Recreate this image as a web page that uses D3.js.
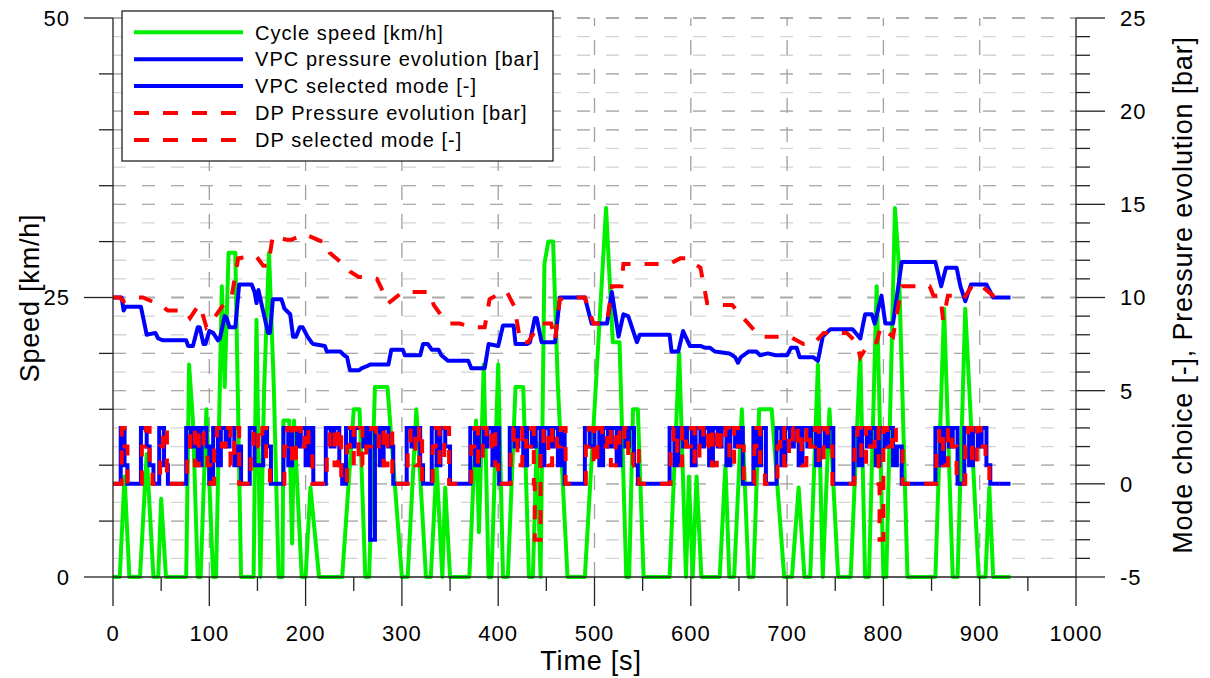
<!DOCTYPE html>
<html lang="en">
<head>
<meta charset="UTF-8">
<title>Cycle speed, pressure and mode choice</title>
<script src="https://cdn.jsdelivr.net/npm/d3@7"></script>
<style>
  body { margin: 0; background: #fff; }
  text { font-family: Arial, "Liberation Sans", sans-serif; fill: #000; }
</style>
</head>
<body>
<svg id="chart" width="1210" height="678"></svg>
<script>
// ---- data: [time s, value] ----
const cycleSpeed = [
  [0,0],[7,0],[12,9],[17,0],[28,0],[35,11],[42,0],[47,0],[50,7],[55,0],[76,0],[79,19],[83,14],[88,0],
  [91,0],[97,15],[104,0],[107,0],[113,26],[116,17],[120,29],[127,29],[133,0],[146,0],[149,23],[153,0],
  [157,17],[162,29],[167,17],[172,0],[176,0],[177,14],[183,14],[186,3],[188,14],[196,0],[200,0],[205,8],
  [214,0],[238,0],[250,15],[256,15],[262,0],[266,0],[272,17],[285,17],[300,0],[306,0],[315,15],[325,0],
  [330,0],[336,10],[342,0],[345,8],[350,0],[370,0],[377,14],[380,4],[385,19],[390,0],[393,0],[400,19],
  [405,0],[410,0],[418,17],[426,17],[432,0],[436,0],[440,12],[444,0],[448,28],[452,30],[457,30],[462,17],
  [472,0],[490,0],[512,33],[519,21],[526,21],[533,0],[536,0],[540,15],[545,15],[551,0],[578,0],[588,20],
  [595,0],[598,9],[602,0],[606,9],[611,0],[630,0],[636,10],[640,0],[645,0],[653,15],[660,0],[665,0],
  [671,15],[684,15],[697,0],[705,0],[712,8],[718,0],[724,0],[732,19],[737,0],[744,15],[753,0],[766,0],
  [776,20],[781,0],[785,0],[793,26],[800,0],[803,0],[812,33],[816,28],[825,0],[854,0],[863,24],[872,0],
  [877,0],[885,24],[899,0],[906,0],[910,8],[914,0],[932,0]
];

const vpcPressure = [
  [0,10],[9,10],[11,9.3],[13,9.5],[29,9.5],[31,9.0],[35,8.0],[44,8.1],[47,7.8],[52,7.7],[76,7.7],[78,7.4],
  [83,7.4],[88,8.4],[90,8.4],[94,7.5],[96,7.5],[100,8.2],[104,8.1],[109,7.7],[111,7.8],[116,9.0],[118,8.9],
  [121,8.4],[127,8.4],[131,10.7],[144,10.7],[147,10.3],[149,9.7],[151,10.4],[154,9.7],[161,8.1],[163,8.1],
  [166,9.9],[175,9.9],[178,9.4],[180,9.3],[184,9.1],[187,7.9],[190,7.9],[194,8.4],[197,8.4],[202,7.9],
  [206,7.6],[208,7.5],[220,7.4],[222,7.1],[236,7.1],[240,6.9],[243,6.8],[246,6.1],[256,6.1],[258,6.2],
  [263,6.3],[267,6.4],[286,6.4],[289,7.2],[301,7.2],[303,6.9],[319,6.9],[322,7.5],[327,7.5],[331,7.2],
  [338,7.2],[341,6.9],[348,6.6],[369,6.6],[372,6.2],[386,6.2],[390,7.5],[400,7.4],[405,8.5],[416,8.5],
  [418,7.5],[430,7.5],[433,7.6],[438,8.9],[440,8.9],[445,7.6],[459,7.6],[464,10],[490,10],[497,8.6],
  [513,8.6],[518,10.3],[525,7.9],[530,9.1],[535,9.0],[544,7.6],[547,8.0],[578,8.0],[580,7.1],[587,7.1],
  [592,8.2],[599,7.4],[610,7.4],[615,7.3],[620,7.3],[625,7.1],[640,7.0],[646,6.8],[649,6.5],[652,6.8],
  [660,7.1],[668,7.1],[672,6.9],[680,7.0],[688,6.9],[700,6.9],[704,7.3],[710,7.3],[713,6.8],[727,6.8],
  [732,6.6],[737,7.9],[745,8.3],[768,8.3],[776,7.8],[781,9.1],[788,9.1],[791,8.6],[798,10.1],[802,8.6],
  [810,8.6],[819,11.9],[854,11.9],[860,10.6],[865,11.6],[876,11.6],[880,10.6],[885,9.8],[891,10.7],
  [907,10.7],[914,10.0],[932,10.0]
];

const dpPressure = [
  [0,10],[7,10],[11,9.8],[26,10],[31,10],[49,9.6],[57,9.3],[75,9.3],[80,8.9],[89,9.6],[92,9.3],[97,8.4],
  [101,8.6],[113,9.5],[123,10],[130,12.1],[142,12.2],[149,12.2],[156,11.7],[161,11.7],[166,13.3],[180,13.1],
  [185,13.1],[199,13.4],[208,13.2],[222,12.9],[225,12.4],[241,11.7],[246,11.4],[255,11.1],[263,11.1],
  [274,11.0],[286,9.7],[301,10.3],[308,10.3],[319,10.3],[329,10.3],[333,9.6],[340,9.1],[350,8.6],[360,8.6],
  [374,8.4],[386,8.4],[391,9.9],[404,10.3],[409,10.3],[417,9.5],[423,7.6],[431,7.6],[443,8.6],[455,8.6],
  [459,7.7],[464,9.9],[473,10],[490,10],[499,8.6],[513,8.6],[518,10.6],[528,10.6],[530,11.8],[544,11.8],
  [578,11.8],[589,12.1],[596,12.1],[610,11.6],[617,9.7],[634,9.6],[643,9.6],[651,9.1],[672,7.9],[686,7.9],
  [703,7.9],[717,7.5],[727,7.5],[738,8.1],[762,8.1],[772,7.6],[776,6.8],[786,7.6],[793,7.6],[797,8.4],
  [810,7.9],[819,10.6],[824,10.6],[848,10.6],[852,10.1],[859,10.1],[862,8.8],[867,10.1],[876,10.1],
  [883,9.9],[893,10.7],[900,10.7],[914,10.1],[921,10.1]
];

// selected mode (step after)
const vpcMode = [
  [0,0],[8,3],[12,1],[15,0],[29,3],[35,2],[38,1],[42,0],[48,3],[53,1],[57,0],
  [76,3],[81,2],[84,3],[88,1],[92,3],[97,2],[100,0],[104,3],[109,1],[112,3],[117,2],[121,3],[126,1],[130,2],[133,0],
  [142,3],[147,1],[152,1],[156,3],[160,2],[164,0],
  [177,3],[182,1],[186,3],[191,2],[195,3],[200,1],[204,3],[208,0],
  [221,3],[226,2],[230,3],[235,1],[238,0],
  [242,3],[247,2],[251,3],[256,3],[260,2],[264,3],[267,-3],[272,3],[277,1],[281,3],[286,2],[291,0],
  [305,3],[310,2],[314,3],[319,1],[322,0],
  [331,3],[336,1],[340,3],[345,2],[350,0],
  [371,3],[376,1],[380,3],[385,2],[389,3],[394,1],[398,3],[401,0],
  [412,3],[417,2],[421,3],[426,1],[430,3],[435,2],[439,3],[444,1],[448,3],[453,2],[457,3],[462,1],[466,3],[469,0],
  [490,3],[495,2],[500,3],[505,1],[509,3],[514,2],[518,3],[523,1],[527,3],[532,2],[536,3],[541,1],[545,0],
  [578,3],[583,1],[587,3],[592,2],[596,3],[601,1],[605,3],[610,2],[614,3],[619,1],[623,3],[628,2],[632,3],
  [637,1],[641,3],[646,2],[650,3],[654,0],
  [665,3],[669,1],[673,3],[678,0],
  [689,3],[694,1],[698,3],[703,2],[707,3],[712,1],[716,3],[721,2],[725,3],[730,1],[734,3],[739,2],[743,3],[748,0],
  [769,3],[774,1],[778,3],[783,2],[787,3],[792,1],[796,3],[801,2],[805,3],[810,1],[814,2],[819,0],
  [854,3],[859,1],[863,3],[868,2],[872,3],[877,0],[884,3],[889,1],[893,3],[898,2],[902,3],[907,1],[911,0],[932,0]
];

const dpMode = [
  [0,0],[9,3],[12,2],[15,0],[30,2],[34,3],[38,1],[41,0],[49,2],[52,3],[56,0],
  [77,2],[80,3],[85,1],[89,3],[94,2],[98,1],[101,0],[105,2],[108,3],[113,2],[117,3],[122,1],[126,3],[131,0],
  [143,2],[146,3],[151,2],[155,3],[159,1],[163,0],
  [178,2],[181,3],[186,1],[190,3],[195,2],[199,3],[203,2],[207,0],
  [222,2],[225,3],[230,1],[234,3],[237,0],
  [243,2],[246,3],[250,1],[255,3],[259,1],[263,2],[268,3],[273,2],[276,3],[281,1],[285,3],[290,0],
  [306,2],[309,3],[314,1],[318,3],[321,0],
  [332,2],[335,3],[339,1],[344,3],[349,0],
  [372,2],[375,3],[379,1],[384,3],[388,2],[393,3],[397,1],[400,0],
  [413,2],[416,3],[420,1],[425,3],[429,2],[434,3],[437,0],[438,-3],[444,2],[447,3],[452,1],[456,3],[461,2],
  [465,3],[470,0],
  [491,2],[494,3],[499,1],[503,3],[508,2],[513,3],[517,1],[522,3],[526,2],[531,3],[535,1],[540,2],[546,0],
  [579,2],[582,3],[586,1],[591,3],[595,2],[600,3],[604,1],[609,3],[613,2],[618,3],[622,1],[627,3],[631,2],
  [636,3],[640,1],[645,3],[649,2],[655,0],
  [666,2],[668,3],[672,1],[677,0],
  [690,2],[693,3],[697,1],[702,3],[706,2],[711,3],[715,1],[720,3],[724,2],[729,3],[733,1],[738,3],[742,2],[747,0],
  [770,2],[773,3],[777,1],[782,3],[786,2],[791,3],[795,0],[796,-3],[800,3],[804,2],[809,3],[813,2],[820,0],
  [855,2],[858,3],[862,1],[867,3],[871,2],[876,0],[885,2],[888,3],[892,1],[897,3],[901,2],[906,1],[910,0],[921,0]
];

const timeTicks = [0,100,200,300,400,500,600,700,800,900,1000];
const speedTicks = [0,25,50];
const rightTicks = [-5,0,5,10,15,20,25];

const legendLabels = [
  "Cycle speed [km/h]",
  "VPC pressure evolution [bar]",
  "VPC selected mode [-]",
  "DP Pressure evolution [bar]",
  "DP selected mode [-]"
];

// ---- layout ----
const plotLeft = 113, plotRight = 1076, plotTop = 18, plotBottom = 577;
const svg = d3.select("#chart");

let x = d3.scaleLinear().domain([0, 1000]).range([plotLeft, plotRight]);
let yL = d3.scaleLinear().domain([0, 50]).range([plotBottom, plotTop]);
let yR = d3.scaleLinear().domain([-5, 25]).range([plotBottom, plotTop]);

let grid = svg.append("g");
// light grid every unit of the right axis
grid.selectAll(".hminor").data(d3.range(-4, 26)).enter().append("line")
  .attr("x1", plotLeft).attr("x2", plotRight)
  .attr("y1", d => yR(d)).attr("y2", d => yR(d))
  .attr("stroke", "#d4d4d4").attr("stroke-width", 1.3).attr("stroke-dasharray", "13,16");
// darker grid on speed steps of 5 and right axis steps of 5
let darkY = d3.range(5, 51, 5).map(d => yL(d)).concat(rightTicks.slice(1).map(d => yR(d)));
grid.selectAll(".hmajor").data(darkY).enter().append("line")
  .attr("x1", plotLeft).attr("x2", plotRight)
  .attr("y1", d => d).attr("y2", d => d)
  .attr("stroke", "#aaaaaa").attr("stroke-width", 1.3).attr("stroke-dasharray", "13,16");
grid.selectAll(".vmajor").data(timeTicks.slice(1, -1)).enter().append("line")
  .attr("x1", d => x(d)).attr("x2", d => x(d))
  .attr("y1", plotBottom).attr("y2", plotTop)
  .attr("stroke", "#a0a0a0").attr("stroke-width", 1.3).attr("stroke-dasharray", "15,14");

// ---- series ----
let plot = svg.append("g");
let lineL = d3.line().x(d => x(d[0])).y(d => yL(d[1]));
let lineR = d3.line().x(d => x(d[0])).y(d => yR(d[1]));
let stepR = d3.line().x(d => x(d[0])).y(d => yR(d[1])).curve(d3.curveStepAfter);

plot.append("path").attr("d", lineL(cycleSpeed))
  .attr("fill", "none").attr("stroke", "#00f000").attr("stroke-width", 4).attr("stroke-linejoin", "round");
plot.append("path").attr("d", lineR(vpcPressure))
  .attr("fill", "none").attr("stroke", "#0000ff").attr("stroke-width", 4).attr("stroke-linejoin", "round");
plot.append("path").attr("d", stepR(vpcMode))
  .attr("fill", "none").attr("stroke", "#0000ff").attr("stroke-width", 4);
plot.append("path").attr("d", lineR(dpPressure))
  .attr("fill", "none").attr("stroke", "#ff0000").attr("stroke-width", 4).attr("stroke-dasharray", "14,14");
plot.append("path").attr("d", stepR(dpMode))
  .attr("fill", "none").attr("stroke", "#ff0000").attr("stroke-width", 4).attr("stroke-dasharray", "14,14");

// ---- axes ----
let axes = svg.append("g").attr("stroke", "#222").attr("stroke-width", 1.3);
axes.append("line").attr("x1", plotLeft).attr("x2", plotLeft).attr("y1", plotTop).attr("y2", plotBottom);
axes.append("line").attr("x1", plotRight).attr("x2", plotRight).attr("y1", plotTop).attr("y2", plotBottom);
axes.append("line").attr("x1", plotLeft).attr("x2", plotRight).attr("y1", plotBottom).attr("y2", plotBottom);

// left ticks: major at labels, minor every 5 km/h
axes.selectAll(".lt").data(d3.range(0, 51, 5)).enter().append("line")
  .attr("x1", d => speedTicks.includes(d) ? plotLeft - 29 : plotLeft - 14).attr("x2", plotLeft)
  .attr("y1", d => yL(d)).attr("y2", d => yL(d));
// right ticks: major every 5, minor every 1
axes.selectAll(".rt").data(d3.range(-5, 26)).enter().append("line")
  .attr("x1", plotRight).attr("x2", d => d % 5 === 0 ? plotRight + 29 : plotRight + 14)
  .attr("y1", d => yR(d)).attr("y2", d => yR(d));
// bottom ticks: major every 100, minor every 50
axes.selectAll(".bt").data(d3.range(0, 1001, 50)).enter().append("line")
  .attr("x1", d => x(d)).attr("x2", d => x(d))
  .attr("y1", plotBottom).attr("y2", d => d % 100 === 0 ? plotBottom + 29 : plotBottom + 14);

let labels = svg.append("g").style("font-size", "22px").style("letter-spacing", "1px");
labels.selectAll(".ll").data(speedTicks).enter().append("text")
  .attr("x", 70).attr("y", d => yL(d)).attr("dy", "0.36em")
  .attr("text-anchor", "end").text(d => d);
labels.selectAll(".rl").data(rightTicks).enter().append("text")
  .attr("x", 1120).attr("y", d => yR(d)).attr("dy", "0.36em")
  .text(d => d);
labels.selectAll(".bl").data(timeTicks).enter().append("text")
  .attr("x", d => x(d)).attr("y", 641)
  .attr("text-anchor", "middle").text(d => d);

let titles = svg.append("g").style("font-size", "27px").style("letter-spacing", "0.8px");
titles.append("text").attr("x", 591).attr("y", 670).attr("text-anchor", "middle").text("Time [s]");
titles.append("text").attr("transform", "translate(39,298) rotate(-90)").attr("text-anchor", "middle")
  .text("Speed [km/h]");
titles.append("text").attr("transform", "translate(1192,295) rotate(-90)").attr("text-anchor", "middle")
  .text("Mode choice [-],  Pressure evolution [bar]");

// ---- legend ----
let legendStyle = [
  { color: "#00f000", dash: null },
  { color: "#0000ff", dash: null },
  { color: "#0000ff", dash: null },
  { color: "#ff0000", dash: "15,14" },
  { color: "#ff0000", dash: "15,14" }
];
let legend = svg.append("g");
legend.append("rect").attr("x", 122).attr("y", 11).attr("width", 431).attr("height", 150)
  .attr("fill", "#fff").attr("stroke", "#222").attr("stroke-width", 1.3);
let rows = legend.selectAll(".row").data(legendLabels).enter().append("g")
  .attr("transform", (d, i) => `translate(0,${32.3 + i * 26.9})`);
rows.append("line").attr("x1", 134).attr("x2", 243)
  .attr("stroke", (d, i) => legendStyle[i].color).attr("stroke-width", 4)
  .attr("stroke-dasharray", (d, i) => legendStyle[i].dash);
rows.append("text").attr("x", 255).attr("dy", "0.36em")
  .style("font-size", "20px").style("letter-spacing", "1.05px").text(d => d);
</script>
</body>
</html>
